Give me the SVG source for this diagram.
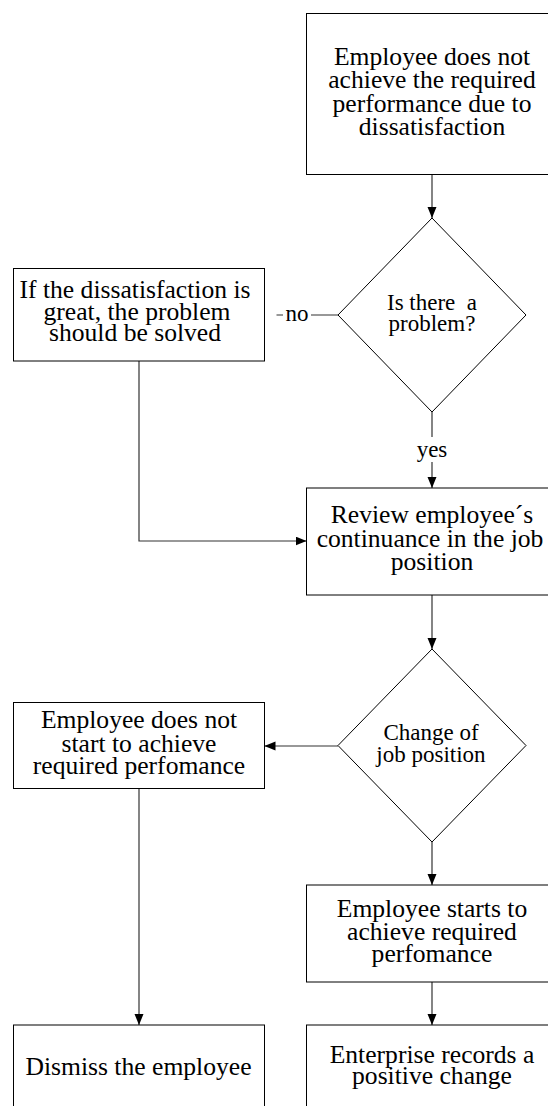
<svg xmlns="http://www.w3.org/2000/svg" width="548" height="1106" viewBox="0 0 548 1106">
<style>
.box{fill:#fff;stroke:#000;stroke-width:1}
.dia{fill:#fff;stroke:#000;stroke-width:1}
.t{font-size:25.6px;fill:#000;text-anchor:middle}
.d{font-size:23px;fill:#000;text-anchor:middle}
.c{fill:none;stroke:#333;stroke-width:1.2}
.lbg{fill:#fff;stroke:none}
</style>
<defs>
<marker id="arr" markerUnits="userSpaceOnUse" markerWidth="11" markerHeight="10" refX="11" refY="4.5" orient="auto">
<path d="M0,0 L11,4.5 L0,9 z" fill="#000"/>
</marker>
</defs>
<rect width="548" height="1106" fill="#fff"/>
<g font-family="Liberation Serif, Times New Roman, serif">
<g id="connectors">
<path class="c" d="M432 174.5 V218" marker-end="url(#arr)"/>
<path class="c" d="M432 412 V488" marker-end="url(#arr)"/>
<rect class="lbg" x="415" y="437" width="34" height="25"/>
<text class="d" x="432" y="456.5">yes</text>
<path class="c" d="M338 315 H276.5"/>
<rect class="lbg" x="283" y="303" width="28" height="22"/>
<text class="d" x="297" y="321">no</text>
<path class="c" d="M139 361 V541 H306.5" marker-end="url(#arr)"/>
<path class="c" d="M432 595 V649" marker-end="url(#arr)"/>
<path class="c" d="M338 746 H264.5" marker-end="url(#arr)"/>
<path class="c" d="M432 842 V885" marker-end="url(#arr)"/>
<path class="c" d="M139 788.5 V1025" marker-end="url(#arr)"/>
<path class="c" d="M432 982 V1025" marker-end="url(#arr)"/>
</g>
<g id="n1">
<rect class="box" x="306.5" y="13.5" width="252" height="161"/>
<text class="t" x="432" y="65">Employee does not</text>
<text class="t" x="432" y="88.3">achieve the required</text>
<text class="t" x="432" y="111.7">performance due to</text>
<text class="t" x="432" y="135">dissatisfaction</text>
</g>
<g id="d1">
<polygon class="dia" points="432,218 526,315 432,412 338,315"/>
<text class="d" x="432" y="309.5" xml:space="preserve">Is there  a</text>
<text class="d" x="432" y="331">problem?</text>
</g>
<g id="n2">
<rect class="box" x="13.5" y="268.5" width="251" height="92.5"/>
<text class="t" x="135" y="297.7">If the dissatisfaction is</text>
<text class="t" x="137" y="320">great, the problem</text>
<text class="t" x="135" y="341">should be solved</text>
</g>
<g id="n3">
<rect class="box" x="306.5" y="488" width="252" height="107"/>
<text class="t" x="432" y="523.3">Review employee´s</text>
<text class="t" x="430" y="547.3">continuance in the job</text>
<text class="t" x="432" y="570">position</text>
</g>
<g id="d2">
<polygon class="dia" points="432,649 526,745.5 432,842 338,745.5"/>
<text class="d" x="431" y="739.5">Change of</text>
<text class="d" x="431" y="761.5">job position</text>
</g>
<g id="n4">
<rect class="box" x="13.5" y="702.5" width="251" height="86"/>
<text class="t" x="139" y="728.3">Employee does not</text>
<text class="t" x="139" y="751.7">start to achieve</text>
<text class="t" x="139" y="774">required perfomance</text>
</g>
<g id="n5">
<rect class="box" x="306.5" y="885" width="252" height="97"/>
<text class="t" x="432" y="916.7">Employee starts to</text>
<text class="t" x="432" y="940">achieve required</text>
<text class="t" x="432" y="961.7">perfomance</text>
</g>
<g id="n6">
<rect class="box" x="13.5" y="1025" width="251" height="100"/>
<text class="t" x="138.5" y="1075">Dismiss the employee</text>
</g>
<g id="n7">
<rect class="box" x="306.5" y="1025" width="252" height="100"/>
<text class="t" x="432" y="1063.3">Enterprise records a</text>
<text class="t" x="432" y="1083.5">positive change</text>
</g>
</g>
</svg>
